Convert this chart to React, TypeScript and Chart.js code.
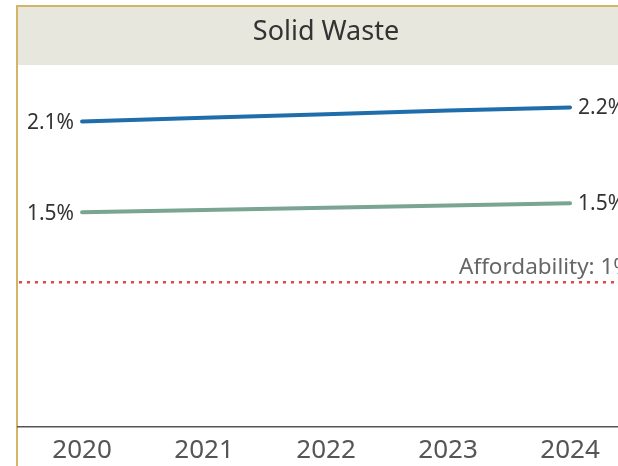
import React, { useEffect, useRef } from "react";
import { Chart, registerables } from "chart.js";

Chart.register(...registerables);

const years = [2020, 2021, 2022, 2023, 2024];
const blueSeries = [2.11, 2.135, 2.16, 2.185, 2.207];
const greenSeries = [1.483, 1.499, 1.514, 1.53, 1.545];
const blueLabels = ["2.1%", "2.2%"];
const greenLabels = ["1.5%", "1.5%"];
const affordability = 1;
const title = "Solid Waste";
const affordabilityLabel = "Affordability: 1%";

const FONT = "'Noto Sans', 'Open Sans', sans-serif";

const decorPlugin = {
  id: "decor",
  beforeDraw(chart: any) {
    const ctx = chart.ctx;
    const W = chart.width;
    const H = chart.height;
    ctx.save();
    ctx.fillStyle = "#ffffff";
    ctx.fillRect(0, 0, W, H);
    // header band
    ctx.fillStyle = "#e7e7dd";
    ctx.fillRect(18, 7, W - 18, 58);
    // gold borders
    ctx.strokeStyle = "#d4b565";
    ctx.lineWidth = 2;
    ctx.beginPath();
    ctx.moveTo(16, 6);
    ctx.lineTo(W, 6);
    ctx.stroke();
    ctx.beginPath();
    ctx.moveTo(17, 5);
    ctx.lineTo(17, H);
    ctx.stroke();
    // title
    ctx.fillStyle = "#333333";
    ctx.font = `27px ${FONT}`;
    ctx.textAlign = "center";
    ctx.textBaseline = "middle";
    ctx.fillText(title, 326, 32);
    // affordability line
    const y = chart.scales.y.getPixelForValue(affordability);
    ctx.strokeStyle = "#e34a45";
    ctx.lineWidth = 2.5;
    ctx.setLineDash([3, 5]);
    ctx.beginPath();
    ctx.moveTo(19, y);
    ctx.lineTo(W, y);
    ctx.stroke();
    ctx.setLineDash([]);
    ctx.fillStyle = "#666666";
    ctx.font = `22.5px ${FONT}`;
    ctx.textAlign = "left";
    ctx.textBaseline = "alphabetic";
    ctx.fillText(affordabilityLabel, 459, y - 8);
    ctx.restore();
  },
  afterDatasetsDraw(chart: any) {
    const ctx = chart.ctx;
    const labelSets = [blueLabels, greenLabels];
    ctx.save();
    ctx.fillStyle = "#333333";
    ctx.font = `21px ${FONT}`;
    ctx.textBaseline = "middle";
    chart.data.datasets.forEach((ds: any, i: number) => {
      const meta = chart.getDatasetMeta(i);
      const pts = meta.data;
      const first = pts[0];
      const last = pts[pts.length - 1];
      ctx.textAlign = "right";
      ctx.fillText(labelSets[i][0], first.x - 8, first.y + 2);
      ctx.textAlign = "left";
      ctx.fillText(labelSets[i][1], last.x + 8, last.y + 1);
    });
    ctx.restore();
  },
};

export default function App() {
  const ref = useRef<HTMLCanvasElement>(null);
  useEffect(() => {
    if (!ref.current) return;
    const chart = new Chart(ref.current, {
      type: "line",
      data: {
        datasets: [
          {
            label: "Blue",
            data: years.map((x, i) => ({ x, y: blueSeries[i] })),
            borderColor: "#1f6dab",
            borderWidth: 4,
            borderCapStyle: "round",
            pointRadius: 0,
            tension: 0,
          },
          {
            label: "Green",
            data: years.map((x, i) => ({ x, y: greenSeries[i] })),
            borderColor: "#7ba593",
            borderWidth: 4,
            borderCapStyle: "round",
            pointRadius: 0,
            tension: 0,
          },
        ],
      },
      options: {
        animation: false,
        responsive: false,
        events: [],
        layout: { padding: { left: 18, right: 0, top: 65, bottom: 0 } },
        plugins: {
          legend: { display: false },
          tooltip: { enabled: false },
          title: { display: false },
        },
        scales: {
          x: {
            type: "linear",
            min: 2019.475,
            max: 2024.393,
            afterBuildTicks: (axis: any) => {
              axis.ticks = years.map((v) => ({ value: v }));
            },
            afterFit: (s: any) => {
              s.height = 39;
            },
            grid: { display: false, drawTicks: false },
            border: { display: true, color: "#555555", width: 1.5 },
            ticks: {
              autoSkip: false,
              maxRotation: 0,
              padding: 11,
              color: "#555555",
              font: { family: FONT, size: 26, lineHeight: 1 },
              callback: (v: any) => String(v),
            },
          },
          y: {
            display: false,
            min: 0,
            max: 2.5,
          },
        },
      },
      plugins: [decorPlugin],
    });
    return () => chart.destroy();
  }, []);
  return (
    <div style={{ position: "fixed", left: 0, top: 0, width: 618, height: 466 }}>
      <canvas ref={ref} width={618} height={466} />
    </div>
  );
}
